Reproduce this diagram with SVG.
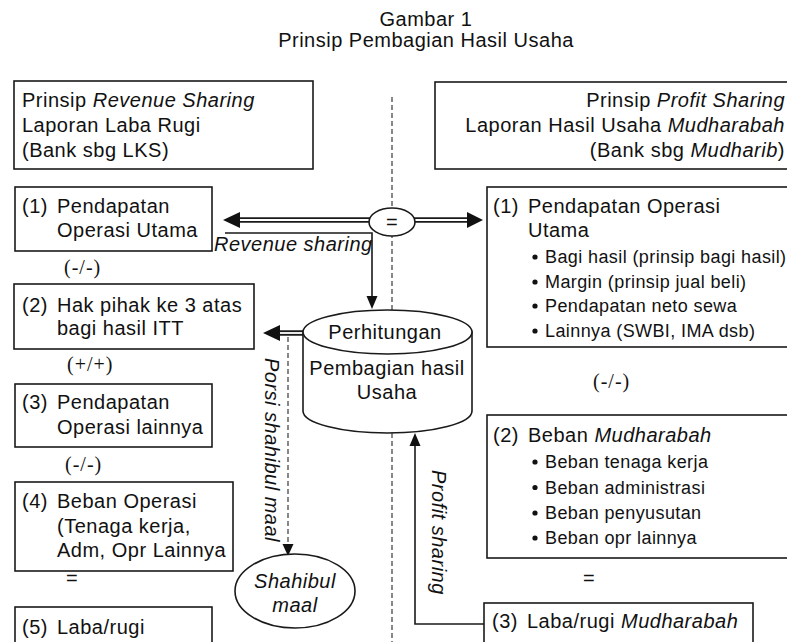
<svg xmlns="http://www.w3.org/2000/svg" width="787" height="642" viewBox="0 0 787 642">
<style>
.t{font-family:"Liberation Sans",Arial,sans-serif;font-size:20px;letter-spacing:0.5px;fill:#111}
.b{font-size:18px;letter-spacing:0.4px}
.i{font-style:italic}
.s{font-family:"Liberation Serif","Times New Roman",serif;font-size:20px;letter-spacing:1px;fill:#111}
.box{fill:#fff;stroke:#1a1a1a;stroke-width:1.6}
.ln{fill:none;stroke:#1a1a1a;stroke-width:1.6}
.dl{fill:none;stroke:#888;stroke-width:2;stroke-dasharray:5 3}
.dbl{stroke:#1a1a1a;stroke-width:5.5;fill:none}
.dblw{stroke:#fff;stroke-width:1.8;fill:none}
.ah{fill:#111}
</style>
<rect width="787" height="642" fill="#fff"/>
<g id="title">
<text class="t" x="426" y="26" text-anchor="middle">Gambar 1</text>
<text class="t" x="426" y="47" text-anchor="middle">Prinsip Pembagian Hasil Usaha</text>
</g>
<g id="connectors">
<line class="dl" x1="392" y1="97" x2="392" y2="642"/>
<line class="dbl" x1="370" y1="220" x2="236" y2="220"/>
<line class="dblw" x1="370" y1="220" x2="236" y2="220"/>
<polygon class="ah" points="223,220 240,212 240,228"/>
<line class="dbl" x1="414" y1="220" x2="470" y2="220"/>
<line class="dblw" x1="414" y1="220" x2="470" y2="220"/>
<polygon class="ah" points="483,220 467,212 467,228"/>
<polyline class="ln" points="225,233 372,233 372,297"/>
<polygon class="ah" points="366.5,296 377.5,296 372,309"/>
<line class="dbl" x1="305" y1="333" x2="276" y2="333"/>
<line class="dblw" x1="305" y1="333" x2="276" y2="333"/>
<polygon class="ah" points="263,333 280,325 280,341"/>
<line class="dl" x1="288" y1="337" x2="288" y2="545"/>
<polygon class="ah" points="282.5,544 293.5,544 288,556"/>
<polyline class="ln" points="484,624 415,624 415,445"/>
<polygon class="ah" points="409.5,446 420.5,446 415,433"/>
<text class="t i" transform="translate(265,358) rotate(90)">Porsi shahibul maal</text>
<text class="t i" transform="translate(432,470) rotate(90)">Profit sharing</text>
<text class="t i" x="214" y="251">Revenue sharing</text>
</g>
<g id="hdr-left">
<rect class="box" x="14" y="81" width="299" height="88"/>
<text class="t" x="22" y="107">Prinsip <tspan class="i">Revenue Sharing</tspan></text>
<text class="t" x="22" y="132">Laporan Laba Rugi</text>
<text class="t" x="22" y="157">(Bank sbg LKS)</text>
</g>
<g id="hdr-right">
<rect class="box" x="435" y="82" width="400" height="87"/>
<text class="t" x="785" y="107" text-anchor="end">Prinsip <tspan class="i">Profit Sharing</tspan></text>
<text class="t" x="785" y="132" text-anchor="end">Laporan Hasil Usaha <tspan class="i">Mudharabah</tspan></text>
<text class="t" x="785" y="157" text-anchor="end">(Bank sbg <tspan class="i">Mudharib</tspan>)</text>
</g>
<g id="eq">
<ellipse class="box" cx="392" cy="222" rx="23" ry="14"/>
<text class="t" x="392" y="229" text-anchor="middle">=</text>
</g>
<g id="l1">
<rect class="box" x="15" y="187" width="197" height="64"/>
<text class="t" x="22" y="213">(1)</text>
<text class="t" x="57" y="213">Pendapatan</text>
<text class="t" x="57" y="237">Operasi Utama</text>
</g>
<text class="s" x="64" y="274">(-/-)</text>
<g id="l2">
<rect class="box" x="14" y="284" width="240" height="65"/>
<text class="t" x="22" y="312">(2)</text>
<text class="t" x="57" y="312">Hak pihak ke 3 atas</text>
<text class="t" x="57" y="335">bagi hasil ITT</text>
</g>
<text class="s" x="67" y="371">(+/+)</text>
<g id="l3">
<rect class="box" x="15" y="384" width="197" height="63"/>
<text class="t" x="22" y="409">(3)</text>
<text class="t" x="57" y="409">Pendapatan</text>
<text class="t" x="57" y="434">Operasi lainnya</text>
</g>
<text class="s" x="65" y="471">(-/-)</text>
<g id="l4">
<rect class="box" x="15" y="482" width="218" height="89"/>
<text class="t" x="22" y="508">(4)</text>
<text class="t" x="57" y="508">Beban Operasi</text>
<text class="t" x="57" y="533">(Tenaga kerja,</text>
<text class="t" x="57" y="557">Adm, Opr Lainnya</text>
</g>
<text class="t" x="72" y="585" text-anchor="middle">=</text>
<g id="l5">
<rect class="box" x="15" y="607" width="197" height="50"/>
<text class="t" x="22" y="634">(5)</text>
<text class="t" x="57" y="634">Laba/rugi</text>
</g>
<g id="cyl">
<path class="box" d="M303,332 L303,411 A84.5,22 0 0 0 472,411 L472,332 Z"/>
<ellipse class="box" cx="387.5" cy="332" rx="84.5" ry="22"/>
<text class="t" x="385" y="339" text-anchor="middle">Perhitungan</text>
<text class="t" x="387" y="375" text-anchor="middle">Pembagian hasil</text>
<text class="t" x="387" y="399" text-anchor="middle">Usaha</text>
</g>
<g id="shahibul">
<ellipse class="box" cx="295" cy="591" rx="60" ry="37"/>
<text class="t i" x="295" y="588" text-anchor="middle">Shahibul</text>
<text class="t i" x="295" y="612" text-anchor="middle">maal</text>
</g>
<g id="r1">
<rect class="box" x="487" y="187" width="320" height="160"/>
<text class="t" x="493" y="213">(1)</text>
<text class="t" x="528" y="213">Pendapatan Operasi</text>
<text class="t" x="528" y="237">Utama</text>
<circle cx="535" cy="257" r="2.6" fill="#111"/>
<text class="t b" x="545" y="263">Bagi hasil (prinsip bagi hasil)</text>
<circle cx="535" cy="282" r="2.6" fill="#111"/>
<text class="t b" x="545" y="288">Margin (prinsip jual beli)</text>
<circle cx="535" cy="306" r="2.6" fill="#111"/>
<text class="t b" x="545" y="312">Pendapatan neto sewa</text>
<circle cx="535" cy="331" r="2.6" fill="#111"/>
<text class="t b" x="545" y="337">Lainnya (SWBI, IMA dsb)</text>
</g>
<text class="s" x="593" y="388">(-/-)</text>
<g id="r2">
<rect class="box" x="487" y="415" width="320" height="143"/>
<text class="t" x="493" y="442">(2)</text>
<text class="t" x="528" y="442">Beban <tspan class="i">Mudharabah</tspan></text>
<circle cx="535" cy="462" r="2.6" fill="#111"/>
<text class="t b" x="545" y="468">Beban tenaga kerja</text>
<circle cx="535" cy="487.5" r="2.6" fill="#111"/>
<text class="t b" x="545" y="493.5">Beban administrasi</text>
<circle cx="535" cy="513" r="2.6" fill="#111"/>
<text class="t b" x="545" y="519">Beban penyusutan</text>
<circle cx="535" cy="538" r="2.6" fill="#111"/>
<text class="t b" x="545" y="544">Beban opr lainnya</text>
</g>
<text class="t" x="589" y="585" text-anchor="middle">=</text>
<g id="r3">
<rect class="box" x="484" y="603" width="269" height="50"/>
<text class="t" x="492" y="628">(3)</text>
<text class="t" x="527" y="628">Laba/rugi <tspan class="i">Mudharabah</tspan></text>
</g>
</svg>
